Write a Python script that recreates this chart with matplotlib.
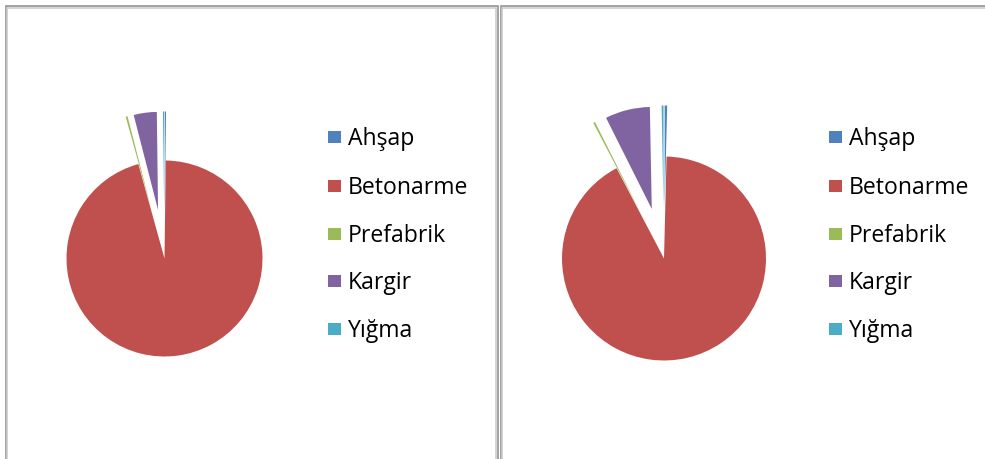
import matplotlib
matplotlib.use('Agg')
import matplotlib.pyplot as plt
import matplotlib.patches as patches

# building types, in the order the slices are drawn (clockwise from 12 o'clock)
categories = ['Ahşap', 'Betonarme', 'Prefabrik', 'Kargir', 'Yığma']
colors = ['#4F81BD', '#C0504D', '#9BBB59', '#8064A2', '#4BACC6']

# shares (%) for the two charts
left_values = [0.2, 95.5, 0.3, 3.8, 0.2]
right_values = [0.4, 91.9, 0.3, 7.1, 0.3]

explode = [0.5, 0, 0.5, 0.5, 0.5]

W, H = 985, 459
dpi = 100
fig = plt.figure(figsize=(W/dpi, H/dpi), dpi=dpi)

# page axes in pixel units (y grows downward) for frames and legends
page = fig.add_axes([0, 0, 1, 1], zorder=0)
page.set_xlim(0, W)
page.set_ylim(H, 0)
page.axis('off')

def frame(x0, x1, y0):
    # double grey frame open at the bottom
    for off, col in [(0, '#8a8a8a'), (1.6, '#c8c8c8')]:
        page.plot([x0+off, x0+off, x1-off, x1-off], [H+5, y0+off, y0+off, H+5],
                  color=col, lw=1.1, solid_joinstyle='miter', clip_on=False)

frame(5.5, 497.5, 6)
frame(500.5, W+20, 6)

def pie_panel(cx, cy, r, values):
    s = 160
    ax = fig.add_axes([(cx-s)/W, (H-cy-s)/H, 2*s/W, 2*s/H], zorder=1)
    ax.pie(values, colors=colors, explode=explode, startangle=90,
           counterclock=False, radius=1, wedgeprops=dict(linewidth=0))
    ax.set_xlim(-s/r, s/r)
    ax.set_ylim(-s/r, s/r)
    ax.set_aspect('auto')
    ax.axis('off')

pie_panel(164.5, 258.5, 98, left_values)
pie_panel(664, 258.5, 102, right_values)

def legend(x0):
    baselines = [145, 194, 242, 289, 337]
    for name, col, yb in zip(categories, colors, baselines):
        page.add_patch(patches.Rectangle((x0, yb-14.5), 12.5, 12.5, facecolor=col,
                                         edgecolor='none'))
        page.text(x0+20, yb, name, fontsize=16.6, family='Open Sans',
                  color='#000000', va='baseline', ha='left')

legend(328)
legend(829)

fig.savefig('out.png', dpi=dpi, facecolor='white')
